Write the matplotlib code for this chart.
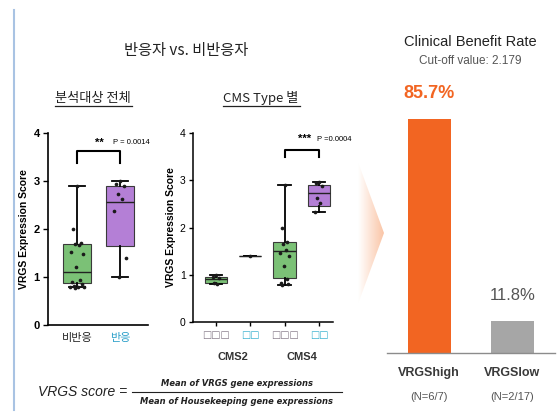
import numpy as np
import matplotlib
matplotlib.use("Agg")
import matplotlib.pyplot as plt
from matplotlib.patches import Polygon

plt.rcParams['font.family'] = ['Liberation Sans', 'Noto Sans CJK KR', 'DejaVu Sans']
KR = ['Noto Sans CJK KR', 'DejaVu Sans']

# ---- VRGS score, all patients: non-responders vs responders ----
overall_groups = ['비반응', '반응']
overall_points = [
    [2.90, 1.99, 1.70, 1.68, 1.66, 1.52, 1.47, 1.20, 0.93, 0.90, 0.86, 0.82, 0.80, 0.80, 0.79, 0.78],
    [2.99, 2.93, 2.90, 2.72, 2.62, 2.38, 1.40, 0.99],
]
overall_whislo = [0.79, 0.99]
overall_q1 = [0.87, 1.65]
overall_med = [1.10, 2.57]
overall_q3 = [1.69, 2.90]
overall_whishi = [2.90, 2.99]
overall_stars = '**'
overall_p = '0.0014'

# ---- VRGS score by CMS type ----
cms_tick_labels = ['□□□', '□□', '□□□', '□□']
cms_types = ['CMS2', 'CMS4']
cms_points = [
    [1.00, 0.95, 0.93, 0.82, 0.80],
    [1.40],
    [2.89, 1.98, 1.69, 1.66, 1.52, 1.46, 1.40, 1.19, 0.92, 0.83, 0.80, 0.78],
    [2.96, 2.94, 2.87, 2.62, 2.52, 2.33],
]
cms_whislo = [0.80, 1.40, 0.78, 2.33]
cms_q1 = [0.83, 1.40, 0.93, 2.45]
cms_med = [0.90, 1.40, 1.50, 2.73]
cms_q3 = [0.95, 1.40, 1.69, 2.89]
cms_whishi = [1.00, 1.40, 2.89, 2.96]
cms_stars = '***'
cms_p = '0.0004'

# ---- Clinical benefit rate by VRGS level ----
cbr_groups = ['VRGShigh', 'VRGSlow']
cbr_counts = ['(N=6/7)', '(N=2/17)']
cbr_rate = [85.7, 11.8]
cutoff = 2.179

GREEN = '#7bc176'
PURPLE = '#b47fd6'
ORANGE = '#f26522'
GREY_BAR = '#a6a6a6'
SWARM = [0.0, -0.10, 0.10, -0.05, 0.05, -0.15, 0.15, -0.02,
         0.08, -0.12, 0.12, -0.08, 0.02, -0.17, 0.17, -0.04]

W, H = 557, 417
fig = plt.figure(figsize=(W / 100, H / 100), dpi=100)


def rect(x0, y0, x1, y1):
    return [x0 / W, (H - y1) / H, (x1 - x0) / W, (y1 - y0) / H]


# full-figure layer in pixel units for decorations and headings
over = fig.add_axes([0, 0, 1, 1])
over.set_axis_off()


def boxes(ax, positions, whislo, q1, med, q3, whishi, colors, width, capw):
    stats = [dict(whislo=a, q1=b, med=c, q3=d, whishi=e, fliers=[])
             for a, b, c, d, e in zip(whislo, q1, med, q3, whishi)]
    bp = ax.bxp(stats, positions=positions, widths=width, capwidths=capw,
                patch_artist=True, showfliers=False,
                boxprops=dict(edgecolor='#3a3a3a', linewidth=0.8),
                medianprops=dict(color='#222222', linewidth=1.0),
                whiskerprops=dict(color='black', linewidth=1.3),
                capprops=dict(color='black', linewidth=1.3))
    for patch, c in zip(bp['boxes'], colors):
        patch.set_facecolor(c)


def swarm(ax, pos, values, scale):
    xs = [pos + SWARM[i % len(SWARM)] * scale for i in range(len(values))]
    ax.scatter(xs, values, s=7, color='#1a1a1a', zorder=4, linewidths=0)


# ---------------- panel: all patients ----------------
ax1 = fig.add_axes(rect(48, 133, 148, 325))
pos1 = [0, 1]
boxes(ax1, pos1, overall_whislo, overall_q1, overall_med, overall_q3,
      overall_whishi, [GREEN, PURPLE], 0.65, 0.38)
for p, vals in zip(pos1, overall_points):
    swarm(ax1, p, vals, 1.0)
ax1.set_xlim(-0.674, 1.65)
ax1.set_ylim(0, 4)
ax1.set_yticks([0, 1, 2, 3, 4])
ax1.set_xticks(pos1)
ax1.set_xticklabels(overall_groups, family=KR, fontsize=8)
for lab, c in zip(ax1.get_xticklabels(), ['#222222', '#2a9fc9']):
    lab.set_color(c)
ax1.tick_params(axis='x', length=0, pad=6)
ax1.tick_params(axis='y', length=3.5, width=1, pad=2.5, labelsize=8)
for lab in ax1.get_yticklabels():
    lab.set_fontweight('bold')
ax1.set_ylabel('VRGS Expression Score', fontsize=7.5, fontweight='bold', labelpad=3)
for s in ['top', 'right']:
    ax1.spines[s].set_visible(False)
for s in ['left', 'bottom']:
    ax1.spines[s].set_linewidth(1.2)
ax1.patch.set_alpha(0)
ax1.plot([0, 0, 1, 1], [3.38, 3.62, 3.62, 3.38], color='black', lw=1.5, clip_on=False)
ax1.text(0.53, 3.8, overall_stars, fontsize=8, fontweight='bold', ha='center', va='center')
ax1.text(0.84, 3.8, 'P = ' + overall_p, fontsize=5.5, ha='left', va='center')

# ---------------- panel: by CMS type ----------------
ax2 = fig.add_axes(rect(192.7, 133, 333, 322))
pos2 = [0, 1, 2, 3]
boxes(ax2, pos2, cms_whislo, cms_q1, cms_med, cms_q3, cms_whishi,
      [GREEN, GREEN, GREEN, PURPLE], 0.65, 0.36)
for p, vals in zip(pos2, cms_points):
    swarm(ax2, p, vals, 0.85)
ax2.set_xlim(-0.67, 3.41)
ax2.set_ylim(0, 4)
ax2.set_yticks([0, 1, 2, 3, 4])
ax2.set_xticks(pos2)
ax2.set_xticklabels(cms_tick_labels, family=['DejaVu Sans'], fontsize=7)
for lab, c in zip(ax2.get_xticklabels(), ['#857a88', '#36b0cf', '#857a88', '#36b0cf']):
    lab.set_color(c)
ax2.tick_params(axis='x', length=3, width=1, pad=3)
ax2.tick_params(axis='y', length=3, width=1, pad=2, labelsize=7.5)
ax2.set_ylabel('VRGS Expression Score', fontsize=7.5, fontweight='bold', labelpad=3)
for s in ['top', 'right']:
    ax2.spines[s].set_visible(False)
for s in ['left', 'bottom']:
    ax2.spines[s].set_linewidth(1.1)
ax2.patch.set_alpha(0)
for i, name in enumerate(cms_types):
    ax2.text(2 * i + 0.5, -0.185, name, transform=ax2.get_xaxis_transform(),
             fontsize=8, fontweight='bold', color='#333333', ha='center', va='center')
ax2.plot([2, 2, 3, 3], [3.5, 3.65, 3.65, 3.5], color='black', lw=1.5, clip_on=False)
ax2.text(2.57, 3.87, cms_stars, fontsize=8, fontweight='bold', ha='center', va='center')
ax2.text(2.95, 3.87, 'P =' + cms_p, fontsize=5.5, ha='left', va='center')

# ---------------- clinical benefit rate ----------------
ax3 = fig.add_axes(rect(386.7, 80, 555, 352.7))
pos3 = [0, 1]
ax3.bar(pos3, cbr_rate, width=0.516, color=[ORANGE, GREY_BAR])
ax3.set_xlim(-0.51, 1.51)
ax3.set_ylim(0, 100)
ax3.set_xticks([])
ax3.set_yticks([])
for s in ['top', 'right', 'left']:
    ax3.spines[s].set_visible(False)
ax3.spines['bottom'].set_color('#8c8c8c')
ax3.spines['bottom'].set_linewidth(1)
ax3.patch.set_alpha(0)
label_style = [dict(color=ORANGE, fontweight='bold', fontsize=13),
               dict(color='#555555', fontweight='normal', fontsize=12)]
for p, v, st in zip(pos3, cbr_rate, label_style):
    ax3.annotate(f'{v:.1f}%', (p, v), xytext=(0, 18), textcoords='offset points',
                 ha='center', va='center', **st)
for p, g, n in zip(pos3, cbr_groups, cbr_counts):
    ax3.text(p, -0.0745, g, transform=ax3.get_xaxis_transform(), ha='center',
             va='center', fontsize=9, fontweight='bold', color='#3a3a3a')
    ax3.text(p, -0.162, n, transform=ax3.get_xaxis_transform(), ha='center',
             va='center', fontsize=8, color='#555555')

# ---------------- headings, arrow and formula ----------------
over.plot([14, 14], [10, 410], color='#a9c3e3', lw=1.5)

grad = np.zeros((2, 64, 4))
grad[..., 0] = 0.97
grad[..., 1] = 0.62
grad[..., 2] = 0.42
grad[..., 3] = np.linspace(0, 0.6, 64)[None, :]
img = over.imshow(grad, extent=[358, 384, 304, 162], aspect='auto',
                  interpolation='bilinear', zorder=0)
tri = Polygon([(358, 162), (384, 233), (358, 304)], closed=True,
              transform=over.transData, facecolor='none', edgecolor='none')
over.add_patch(tri)
img.set_clip_path(tri)

over.text(186, 50, '반응자 vs. 비반응자', family=KR, fontsize=11, color='#222222',
          ha='center', va='center')
over.text(93, 98, '분석대상 전체', family=KR, fontsize=9.5, color='#222222',
          ha='center', va='center')
over.plot([55, 132], [106, 106], color='#222222', lw=0.9)
over.text(261, 98, 'CMS Type 별', family=KR, fontsize=9.5, color='#222222',
          ha='center', va='center')
over.plot([223, 300], [106, 106], color='#222222', lw=0.9)

over.text(470, 42, 'Clinical Benefit Rate', fontsize=10.5, color='#222222',
          ha='center', va='center')
over.text(470, 61, f'Cut-off value: {cutoff}', fontsize=8.5, color='#555555',
          ha='center', va='center')

over.text(38, 392, 'VRGS score =', fontsize=10, style='italic', color='#222222',
          ha='left', va='center')
over.text(237, 384, 'Mean of VRGS gene expressions', family=['DejaVu Sans'],
          fontsize=6, style='italic', fontweight='bold', color='#222222',
          ha='center', va='center')
over.plot([132, 342], [392, 392], color='#222222', lw=0.8)
over.text(237, 401, 'Mean of Housekeeping gene expressions', family=['DejaVu Sans'],
          fontsize=6, style='italic', fontweight='bold', color='#222222',
          ha='center', va='center')

over.set_xlim(0, W)
over.set_ylim(H, 0)

fig.savefig('out.png', dpi=100)
